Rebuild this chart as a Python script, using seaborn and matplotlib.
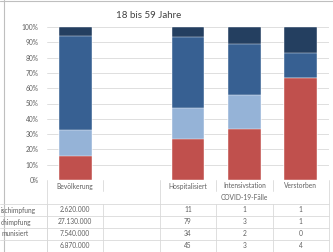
import matplotlib
matplotlib.use('Agg')
import matplotlib.pyplot as plt
import matplotlib.transforms as mtransforms
import seaborn as sns
import pandas as pd
import numpy as np

# Kategorien (die zweite Spalte ist leer)
kategorien = ['Bevölkerung', '', 'Hospitalisiert', 'Intensivstation', 'Verstorben']
# Zeilen der Datentabelle (Beschriftung links abgeschnitten)
zeilen_labels = ['ischimpfung', 'chimpfung', 'munisiert', '']
reihe1 = [2620000, None, 11, 1, 1]
reihe2 = [27130000, None, 79, 3, 1]
reihe3 = [7540000, None, 34, 2, 0]
reihe4 = [6870000, None, 45, 3, 4]
reihen = [reihe1, reihe2, reihe3, reihe4]
farben = ['#243F60', '#376092', '#95B3D7', '#C0504D']
untertitel = 'COVID-19-Fälle'
titel = '18 bis 59 Jahre'

textfarbe = '#606060'
linienfarbe = '#D9D9D9'

sns.set_style('white')
plt.rcParams['font.family'] = ['Lato', 'DejaVu Sans']

fig = plt.figure(figsize=(3.33, 2.52), dpi=100)
ax = fig.add_axes([47/333, 1-180/252, 282/333, 153/252])

# Prozentanteile berechnen
rows = []
for i, k in enumerate(kategorien):
    if reihe1[i] is None:
        continue
    werte = [r[i] for r in reihen]
    ges = sum(werte)
    # kumuliert von unten (reihe4) nach oben (reihe1)
    kum = np.cumsum(werte[::-1])[::-1] / ges * 100
    for j in range(4):
        rows.append({'Kategorie': k, 'Reihe': j, 'kum': kum[j]})
df = pd.DataFrame(rows)

# zuerst die höchste Schicht zeichnen, dann die darunterliegenden
for j in range(4):
    sns.barplot(data=df[df['Reihe'] == j], x='Kategorie', y='kum', order=kategorien,
                color=farben[j], saturation=1, width=0.58, ax=ax,
                edgecolor='white', linewidth=0.3, errorbar=None, zorder=3)

ax.set_ylim(0, 100)
ax.set_xlim(-0.5, len(kategorien) - 0.5)
ax.set_yticks(range(0, 101, 10))
ax.set_yticklabels([f'{v}%' for v in range(0, 101, 10)], color=textfarbe, fontsize=4.8)
ax.tick_params(axis='y', length=0, pad=6)
ax.set_xticks([])
ax.set_xlabel('')
ax.set_ylabel('')
ax.grid(axis='y', color=linienfarbe, linewidth=0.6, zorder=0)
for s in ax.spines.values():
    s.set_visible(False)
ax.axhline(0, color=linienfarbe, linewidth=0.6, zorder=4)

# Überlagerung in Pixelkoordinaten für Tabelle und Titel
tax = fig.add_axes([0, 0, 1, 1], zorder=-1)
tax.set_xlim(0, 333)
tax.set_ylim(252, 0)
tax.axis('off')
tr = mtransforms.blended_transform_factory(ax.transData, tax.transData)

fig.text(149/333, 1-15/252, titel, ha='center', va='center', fontsize=7, color='#404040')

# Rahmen des Diagrammbereichs
tax.plot([4, 4], [0, 252], color='#BFBFBF', linewidth=0.8)
tax.plot([0, 333], [0.5, 0.5], color='#BFBFBF', linewidth=0.8)

kw = dict(color=linienfarbe, linewidth=0.6)
n = len(kategorien)
# Kopfzeile
for i in range(n + 1):
    x = i - 0.5
    if i in (0, 2, n):
        tax.plot([x, x], [180, 252], transform=tr, **kw)
    else:
        tax.plot([x, x], [180, 191], transform=tr, **kw)
        tax.plot([x, x], [204, 252], transform=tr, **kw)
for i, k in enumerate(kategorien):
    tax.text(i, 186, k, transform=tr, ha='center', va='center', fontsize=4.8, color=textfarbe)
tax.text(3, 197.5, untertitel, transform=tr, ha='center', va='center', fontsize=4.8, color=textfarbe)

# Datenzeilen
zeilen_oben = [204, 216, 228, 240, 252]
for y in zeilen_oben:
    tax.plot([0, 329], [y, y], **kw)
tax.plot([47, 47], [204, 252], **kw)


def fmt(v):
    if v is None:
        return ''
    return f'{v:,}'.replace(',', '.')


for r, (lab, reihe) in enumerate(zip(zeilen_labels, reihen)):
    yc = zeilen_oben[r] + 6
    tax.text(1, yc, lab, ha='left', va='center', fontsize=4.8, color=textfarbe)
    for i, v in enumerate(reihe):
        tax.text(i, yc, fmt(v), transform=tr, ha='center', va='center', fontsize=4.8, color=textfarbe)

fig.savefig('out.png', dpi=100)
